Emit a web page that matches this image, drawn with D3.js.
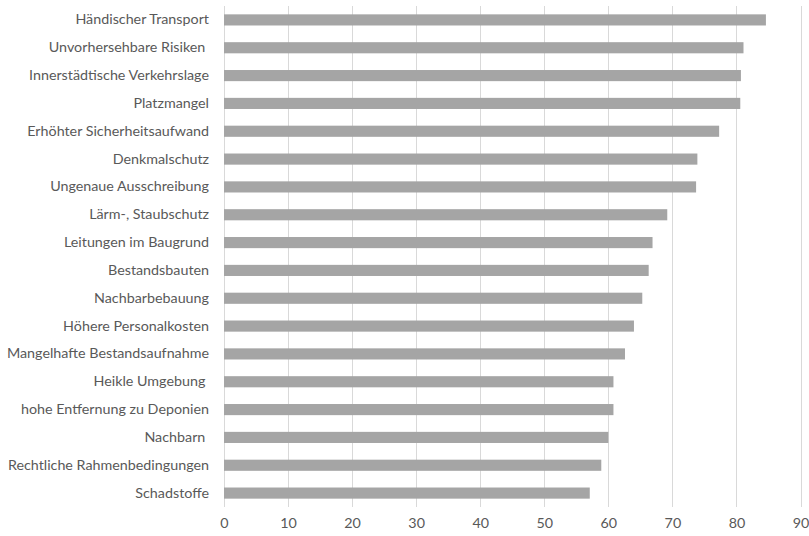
<!DOCTYPE html>
<html>
<head>
<meta charset="utf-8">
<script src="https://cdn.jsdelivr.net/npm/d3@7"></script>
<style>
  html, body { margin: 0; padding: 0; background: #ffffff; }
  svg text { font-family: "Lato", "Liberation Sans", sans-serif; white-space: pre; }
</style>
</head>
<body>
<svg id="chart" width="809" height="536"></svg>
<script>
// Categories, top to bottom
const categories = [
  "Händischer Transport",
  "Unvorhersehbare Risiken ",
  "Innerstädtische Verkehrslage",
  "Platzmangel",
  "Erhöhter Sicherheitsaufwand",
  "Denkmalschutz",
  "Ungenaue Ausschreibung",
  "Lärm-, Staubschutz",
  "Leitungen im Baugrund",
  "Bestandsbauten",
  "Nachbarbebauung",
  "Höhere Personalkosten",
  "Mangelhafte Bestandsaufnahme",
  "Heikle Umgebung ",
  "hohe Entfernung zu Deponien",
  "Nachbarn ",
  "Rechtliche Rahmenbedingungen",
  "Schadstoffe"
];
const values = [84.6, 81.1, 80.7, 80.6, 77.3, 73.9, 73.7, 69.2, 66.9, 66.3, 65.3, 64.0, 62.6, 60.8, 60.8, 60.0, 58.9, 57.1];
const xTicks = [0, 10, 20, 30, 40, 50, 60, 70, 80, 90];

const svg = d3.select("#chart");
const margin = { top: 6, right: 8, bottom: 29, left: 224 };
const width = 809, height = 536;

const x = d3.scaleLinear().domain([0, 90]).range([margin.left, width - margin.right - 0.5]);
const y = d3.scaleBand().domain(categories)
  .range([margin.top, height - margin.bottom])
  .paddingInner(0.6).paddingOuter(0.3);

// vertical gridlines
svg.append("g")
  .selectAll("line")
  .data(xTicks)
  .join("line")
  .attr("x1", d => Math.round(x(d)) + 0.5)
  .attr("x2", d => Math.round(x(d)) + 0.5)
  .attr("y1", margin.top)
  .attr("y2", height - margin.bottom)
  .attr("stroke", "#d9d9d9")
  .attr("stroke-width", 1);

// bars
svg.append("g")
  .selectAll("rect")
  .data(categories)
  .join("rect")
  .attr("x", x(0))
  .attr("y", d => y(d))
  .attr("width", (d, i) => x(values[i]) - x(0))
  .attr("height", y.bandwidth())
  .attr("fill", "#a5a5a5");

// category labels
const yAxis = d3.axisLeft(y).tickSize(0).tickPadding(15);
const gy = svg.append("g").attr("transform", `translate(${margin.left},0)`).call(yAxis);
gy.select(".domain").remove();
gy.selectAll("text")
  .attr("fill", "#595959")
  .style("font-size", "14.3px");

// value axis labels
const xAxis = d3.axisBottom(x).tickValues(xTicks).tickSize(0).tickPadding(11);
const gx = svg.append("g").attr("transform", `translate(0,${height - margin.bottom})`).call(xAxis);
gx.select(".domain").remove();
gx.selectAll("text")
  .attr("fill", "#595959")
  .style("font-size", "14.3px");
</script>
</body>
</html>
